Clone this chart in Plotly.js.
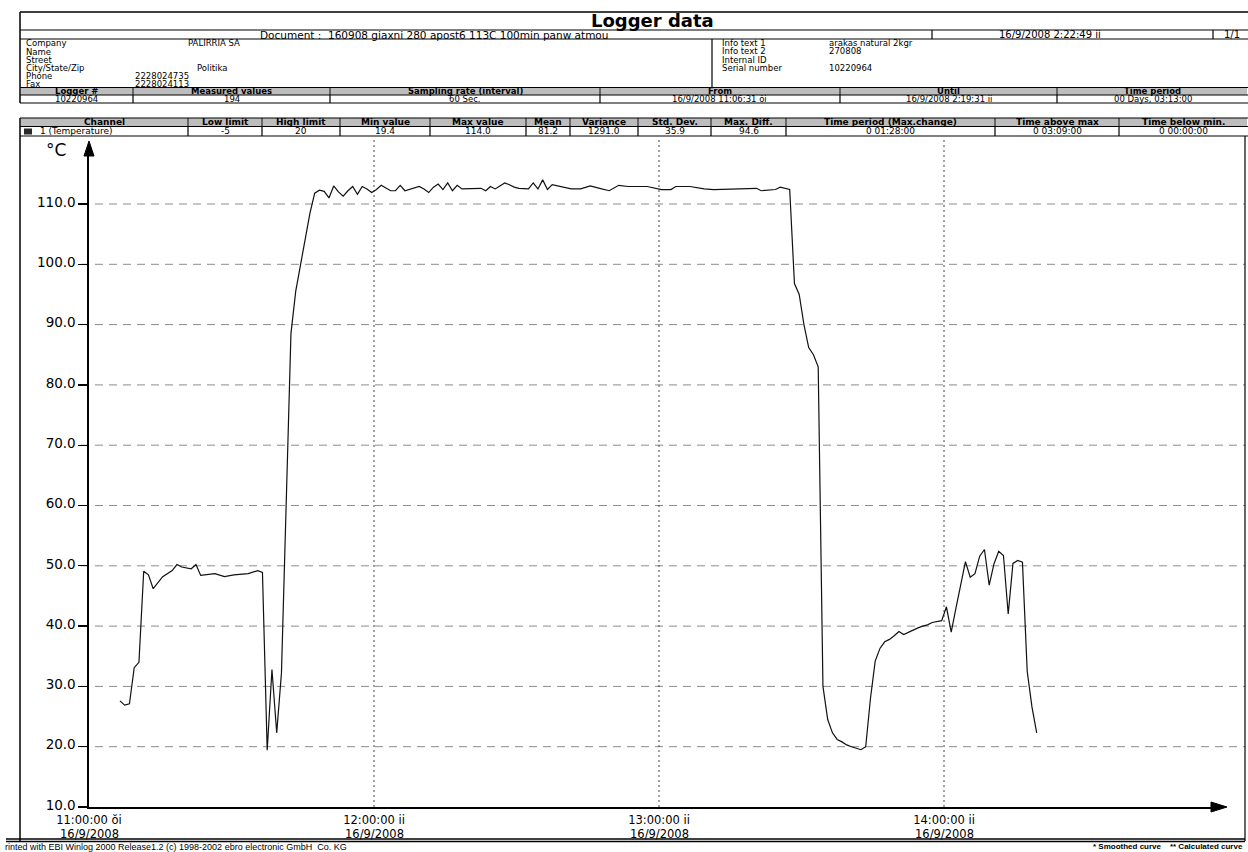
<!DOCTYPE html>
<html>
<head>
<meta charset="utf-8">
<script src="https://cdn.plot.ly/plotly-3.0.1.min.js"></script>
<style>html,body{margin:0;padding:0;background:#fff;}#chart{width:1248px;height:852px;}</style>
</head>
<body>
<div id="chart"></div>
<script>
// ---------------- data ----------------
const sampleDate = '2008-09-16';
const sampleTimes = [
'11:06:31','11:07:31','11:08:31','11:09:31','11:10:31','11:11:31','11:12:31','11:13:31','11:15:31','11:17:31',
'11:18:31','11:19:31','11:21:31','11:22:31','11:23:31','11:26:31','11:28:31','11:30:31','11:33:31','11:35:31',
'11:36:31','11:37:31','11:38:31','11:39:31','11:40:31','11:41:31','11:42:31','11:43:31','11:44:31','11:45:31',
'11:46:31','11:47:31','11:48:31','11:49:31','11:50:31','11:51:31','11:52:31','11:53:31','11:54:31','11:55:31',
'11:56:31','11:57:31','11:58:31','11:59:31','12:00:31','12:01:31','12:02:31','12:03:31','12:04:31','12:05:31',
'12:06:31','12:07:31','12:08:31','12:09:31','12:10:31','12:11:31','12:12:31','12:13:31','12:14:31','12:15:31',
'12:16:31','12:17:31','12:18:31','12:19:31','12:20:31','12:22:31','12:23:31','12:24:31','12:25:31','12:26:31',
'12:27:31','12:28:31','12:29:31','12:30:31','12:31:31','12:32:31','12:33:31','12:34:31','12:35:31','12:36:31',
'12:37:31','12:39:31','12:41:31','12:43:31','12:45:31','12:47:31','12:49:31','12:51:31','12:53:31','12:57:31',
'12:59:31','13:00:31','13:02:31','13:03:31','13:06:31','13:09:31','13:11:31','13:16:31','13:20:31','13:21:31',
'13:24:31','13:25:31','13:27:31','13:28:31','13:29:31','13:30:31','13:31:31','13:32:31','13:33:31','13:34:31',
'13:35:31','13:36:31','13:37:31','13:38:31','13:39:31','13:40:31','13:41:31','13:42:31','13:43:31','13:44:31',
'13:45:31','13:46:31','13:47:31','13:48:31','13:49:31','13:50:31','13:51:31','13:52:31','13:53:31','13:54:31',
'13:55:31','13:56:31','13:57:31','13:58:31','13:59:31','14:00:31','14:01:31','14:02:31','14:03:31','14:04:31',
'14:05:31','14:06:31','14:07:31','14:08:31','14:09:31','14:10:31','14:11:31','14:12:31','14:13:31','14:14:31',
'14:15:31','14:16:31','14:17:31','14:18:31','14:19:31'
];
const temperature = [
27.6,26.9,27.1,33.1,34.0,49.1,48.5,46.2,48.2,49.2,
50.2,49.8,49.5,50.2,48.4,48.7,48.2,48.5,48.7,49.2,
48.9,19.4,32.8,22.3,32.2,60.0,88.5,95.5,100.0,104.0,
108.5,111.8,112.3,112.1,111.0,113.0,112.0,111.3,112.2,112.9,
111.6,112.9,112.5,111.9,112.4,113.1,112.6,112.2,112.2,113.1,
112.2,112.4,112.6,112.9,112.5,111.9,112.8,113.3,112.4,113.5,
112.2,113.1,112.5,112.5,112.6,112.6,112.2,112.9,112.5,113.0,
113.5,113.2,112.8,112.6,112.5,112.5,113.5,112.5,114.0,112.4,
113.2,112.9,112.5,112.5,113.0,112.6,112.2,113.1,112.9,112.9,
112.6,112.4,112.4,112.9,112.9,112.5,112.4,112.5,112.6,112.2,
112.4,112.8,112.4,96.8,95.0,90.0,86.2,85.0,83.0,30.0,
24.5,22.3,21.2,20.8,20.3,20.0,19.7,19.5,20.0,28.0,
34.2,36.3,37.4,37.8,38.4,39.1,38.6,39.0,39.4,39.7,
40.0,40.2,40.6,40.8,40.9,43.2,39.0,43.0,47.0,50.7,
48.1,48.7,51.6,52.7,46.8,50.3,52.4,51.7,42.0,50.4,
50.9,50.6,32.5,26.6,22.3
];
const tickTimes = ['11:00:00','12:00:00','13:00:00','14:00:00'];
const tickSuffix = ['ŏi','ii','ii','ii'];
const tickDateLabel = '16/9/2008';
const yTickValues = [10,20,30,40,50,60,70,80,90,100,110];
const yUnit = '°C';

const reportTitle = 'Logger data';
const documentText = 'Document :  160908 giaxni 280 apost6 113C 100min panw atmou';
const printDate = '16/9/2008 2:22:49 ii';
const pageText = '1/1';
const companyLabels = ['Company','Name','Street','City/State/Zip','Phone','Fax'];
const companyValues = ['PALIRRIA SA','','','Politika','2228024735','2228024113'];
const infoLabels = ['Info text 1','Info text 2','Internal ID','Serial number'];
const infoValues = ['arakas natural 2kgr','270808','','10220964'];
const loggerHeaders = ['Logger #','Measured values','Sampling rate (interval)','From','Until','Time period'];
const loggerValues = ['10220964','194','60 Sec.','16/9/2008 11:06:31 ŏi','16/9/2008 2:19:31 ii','00 Days, 03:13:00'];
const channelHeaders = ['Channel','Low limit','High limit','Min value','Max value','Mean','Variance','Std. Dev.','Max. Diff.','Time period (Max.change)','Time above max','Time below min.'];
const channelValues = ['1 (Temperature)','-5','20','19.4','114.0','81.2','1291.0','35.9','94.6','0 01:28:00','0 03:09:00','0 00:00:00'];
const footerLeft = 'rinted with EBI Winlog 2000 Release1.2 (c) 1998-2002 ebro electronic GmbH  Co. KG';
const footerRight = '* Smoothed curve    ** Calculated curve';

// ---------------- layout geometry (pixels) ----------------
const W = 1248, H = 852;
const px = x => x / W, py = y => 1 - y / H;
const FONT = 'DejaVu Sans, Arial, sans-serif';
const LIB = 'Liberation Sans, Arial, sans-serif';
const AX_X = 89, AX_Y = 807, X_END = 1212, Y_TOP = 155, PX_HOUR = 285, PX_UNIT = 6.03;
const t0 = Date.UTC(2008, 8, 16, 11, 0, 0);
const xEnd = t0 + (X_END - AX_X) / PX_HOUR * 3600000;
const yTop = 10 + (AX_Y - Y_TOP) / PX_UNIT;

const shapes = [];
const ann = [];
function hl(y, x0, x1, w, c) { shapes.push({type:'line', xref:'paper', yref:'paper', x0:px(x0), x1:px(x1), y0:py(y), y1:py(y), line:{color:c||'#000', width:w||1}}); }
function vl(x, y0, y1, w, c) { shapes.push({type:'line', xref:'paper', yref:'paper', x0:px(x), x1:px(x), y0:py(y0), y1:py(y1), line:{color:c||'#000', width:w||1}}); }
function rect(x0, y0, x1, y1, fill) { shapes.push({type:'rect', xref:'paper', yref:'paper', x0:px(x0), x1:px(x1), y0:py(y0), y1:py(y1), fillcolor:fill, line:{width:0}, layer:'below'}); }
function txt(x, y, s, size, anchor, bold, fam) {
  ann.push({xref:'paper', yref:'paper', x:px(x), y:py(y), text: bold ? '<b>' + s + '</b>' : s, showarrow:false,
    xanchor:anchor||'left', yanchor:'middle', font:{family:fam||FONT, size:size||9, color:'#000'}});
}

// frame + title row
hl(12, 20, 1248, 1.5);
vl(20, 12, 103, 1.5);
txt(652, 20.5, reportTitle, 18, 'center', true);
hl(30, 20, 1248, 1.2);
txt(258, 34.8, documentText, 10.5, 'left');
vl(932, 30, 39, 1.2); vl(1213, 30, 39, 1.2);
txt(1050, 34.8, printDate, 10, 'center');
txt(1232, 34.8, pageText, 10, 'center');
hl(39, 20, 1248, 1.2);
// company block
const compY = [43.2, 51.5, 59.8, 68.1, 76.4, 84.2];
companyLabels.forEach((s, i) => txt(24, compY[i], s, 8.5, 'left'));
const compValX = [186, 186, 186, 195, 133, 133];
companyValues.forEach((s, i) => { if (s) txt(compValX[i], compY[i], s, 8.5, 'left'); });
vl(712, 39, 87, 1.2);
const infoY = [43, 51.3, 59.6, 67.9];
infoLabels.forEach((s, i) => txt(720, infoY[i], s, 8.5, 'left'));
infoValues.forEach((s, i) => { if (s) txt(827, infoY[i], s, 8.5, 'left'); });
// logger table
const logCols = [20, 133, 330, 600, 840, 1057, 1248];
for (let i = 0; i < 6; i++) {
  rect(logCols[i] + 1, 87.5, logCols[i + 1] - 1, 95, '#bdbdbd');
  const cx = (logCols[i] + logCols[i + 1]) / 2;
  txt(cx, 91.2, loggerHeaders[i], 8.5, 'center', true);
  txt(cx, 99.2, loggerValues[i], 8.5, 'center');
}
hl(87.5, 20, 1248, 1.2); hl(95, 20, 1248, 1); hl(103, 20, 1248, 1.2);
logCols.slice(1, 6).forEach(x => vl(x, 87.5, 103, 1.2));
// channel table
const chCols = [20, 188, 262, 340, 430, 526, 570, 638, 711, 786, 995, 1119, 1248];
for (let i = 0; i < 12; i++) {
  rect(chCols[i] + 1, 118, chCols[i + 1] - 1, 126.5, '#bdbdbd');
  const cx = (chCols[i] + chCols[i + 1]) / 2;
  txt(cx, 122.2, channelHeaders[i], 9, 'center', true);
  if (i === 0) txt(38, 131.3, channelValues[i], 9, 'left');
  else txt(cx, 131.3, channelValues[i], 9, 'center');
}
rect(24, 128.5, 32, 134.5, '#2a2a2a');
hl(118, 20, 1248, 1.2); hl(126.5, 20, 1248, 1); hl(136, 20, 1248, 1.2);
chCols.slice(1, 12).forEach(x => vl(x, 118, 136, 1.2));
// plot frame
vl(20, 118, 841, 1.5);
vl(1245, 136, 841, 1.2);
hl(839, 6, 1245, 1.5); hl(841.5, 6, 1245, 1.5);
txt(3, 846.8, footerLeft, 9, 'left', false, LIB);
txt(1245, 846.8, footerRight, 8, 'right', true, LIB);

// grid lines (through the axes' own scales)
yTickValues.filter(v => v > 10).forEach(v => shapes.push({type:'line', xref:'paper', yref:'y', x0:px(AX_X - 8), x1:px(1245), y0:v, y1:v,
  line:{color:'#8c8c8c', width:1, dash:'8px,6px'}, layer:'below'}));
tickTimes.slice(1).forEach(t => shapes.push({type:'line', xref:'x', yref:'paper', x0:sampleDate + ' ' + t, x1:sampleDate + ' ' + t,
  y0:py(AX_Y), y1:py(137), line:{color:'#444', width:1, dash:'2px,3px'}, layer:'below'}));
// axis arrowheads
shapes.push({type:'path', xref:'paper', yref:'paper', path:`M ${px(AX_X)} ${py(141)} L ${px(AX_X-5)} ${py(Y_TOP+1)} L ${px(AX_X+5)} ${py(Y_TOP+1)} Z`, fillcolor:'#000', line:{color:'#000', width:1}});
shapes.push({type:'path', xref:'paper', yref:'paper', path:`M ${px(1227)} ${py(AX_Y)} L ${px(X_END-1)} ${py(AX_Y-5)} L ${px(X_END-1)} ${py(AX_Y+5)} Z`, fillcolor:'#000', line:{color:'#000', width:1}});
txt(56, 150, yUnit, 17, 'center');
// second line of x tick labels
tickTimes.forEach(t => ann.push({xref:'x', yref:'paper', x:sampleDate + ' ' + t, y:py(833.5), text:tickDateLabel, showarrow:false,
  xanchor:'center', yanchor:'middle', font:{family:FONT, size:11.5, color:'#000'}}));

const trace = {
  type:'scatter', mode:'lines',
  x: sampleTimes.map(t => sampleDate + ' ' + t),
  y: temperature,
  line:{color:'#111', width:1.2},
  hoverinfo:'skip', showlegend:false
};

const layout = {
  width:W, height:H,
  margin:{l:0, r:0, t:0, b:0},
  paper_bgcolor:'#fff', plot_bgcolor:'rgba(0,0,0,0)',
  showlegend:false,
  xaxis:{
    type:'date', domain:[px(AX_X), px(X_END)], range:[t0, xEnd],
    tickvals: tickTimes.map(t => sampleDate + ' ' + t),
    ticktext: tickTimes.map((t, i) => t + ' ' + tickSuffix[i]),
    ticks:'', showgrid:false, zeroline:false, ticklabelstandoff:2,
    showline:true, linecolor:'#000', linewidth:1.6,
    tickfont:{family:FONT, size:11.5, color:'#000'},
    fixedrange:true
  },
  yaxis:{
    domain:[py(AX_Y), py(Y_TOP)], range:[10, yTop],
    tickvals: yTickValues, tickformat:'.1f', ticklabelshift:-2,
    ticks:'outside', ticklen:9, tickcolor:'#000', tickwidth:1.2,
    showgrid:false, zeroline:false,
    showline:true, linecolor:'#000', linewidth:1.6,
    tickfont:{family:FONT, size:13.5, color:'#000'},
    fixedrange:true
  },
  shapes: shapes,
  annotations: ann
};
Plotly.newPlot('chart', [trace], layout, {displayModeBar:false, staticPlot:true});
</script>
</body>
</html>
